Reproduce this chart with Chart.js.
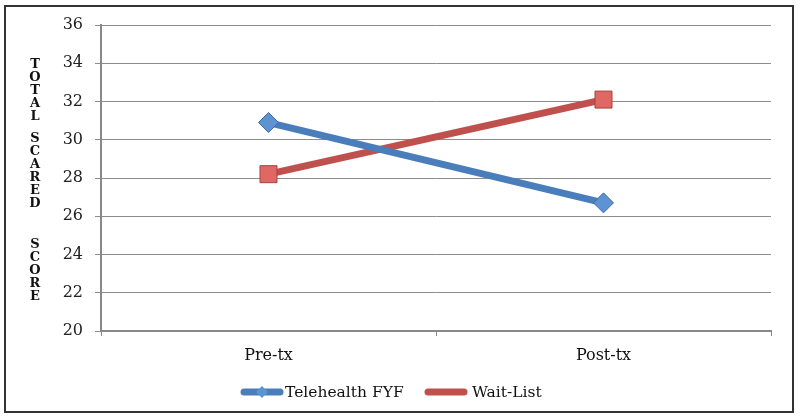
<!DOCTYPE html>
<html>
<head>
<meta charset="utf-8">
<script src="https://cdn.jsdelivr.net/npm/chart.js@4.4.0/dist/chart.umd.min.js"></script>
<style>
  html, body { margin: 0; padding: 0; background: #fff; }
  #wrap { width: 800px; height: 418px; position: relative; }
</style>
</head>
<body>
<div id="wrap"><canvas id="chart"></canvas></div>
<script>
// data
const categories = ['Pre-tx', 'Post-tx'];
const telehealth = [30.9, 26.7];
const waitList = [28.2, 32.1];
const yTicks = [20, 22, 24, 26, 28, 30, 32, 34, 36];
const yTitle = ['TOTAL', 'SCARED', 'SCORE'];

const FONT = "'DejaVu Serif', 'Liberation Serif', serif";

// vertical stacked y title, custom legend and the outer frame
const decorations = {
  id: 'decorations',
  afterDraw(chart) {
    const ctx = chart.ctx;
    ctx.save();

    // frame
    ctx.strokeStyle = '#333';
    ctx.lineWidth = 2;
    ctx.strokeRect(5, 6, 788, 406);

    // stacked letters
    ctx.fillStyle = '#111';
    ctx.font = "bold 13px " + FONT;
    ctx.textAlign = 'center';
    ctx.textBaseline = 'middle';
    const starts = [65, 139, 245];
    yTitle.forEach((word, w) => {
      [...word].forEach((ch, i) => {
        ctx.fillText(ch, 35, starts[w] + i * 12.9);
      });
    });

    // legend
    const items = [
      { ds: chart.data.datasets[0], x: 241, tx: 285, diamond: true },
      { ds: chart.data.datasets[1], x: 425, tx: 472, diamond: false }
    ];
    const ly = 392;
    ctx.font = "15.5px " + FONT;
    ctx.textAlign = 'left';
    items.forEach(it => {
      ctx.strokeStyle = it.ds.borderColor;
      ctx.lineWidth = 7;
      ctx.lineCap = 'round';
      ctx.beginPath();
      ctx.moveTo(it.x + 3, ly);
      ctx.lineTo(it.x + 39, ly);
      ctx.stroke();
      if (it.diamond) {
        ctx.fillStyle = it.ds.pointBackgroundColor;
        ctx.beginPath();
        const cx = it.x + 21;
        ctx.moveTo(cx, ly - 6);
        ctx.lineTo(cx + 6, ly);
        ctx.lineTo(cx, ly + 6);
        ctx.lineTo(cx - 6, ly);
        ctx.closePath();
        ctx.fill();
      }
      ctx.fillStyle = '#111';
      ctx.fillText(it.ds.label, it.tx, ly + 1);
    });
    ctx.restore();
  }
};

new Chart(document.getElementById('chart'), {
  type: 'line',
  data: {
    labels: categories,
    datasets: [{
      label: 'Telehealth FYF',
      data: telehealth,
      borderColor: '#4a7ebb',
      borderWidth: 7,
      pointStyle: 'rectRot',
      pointRadius: 10,
      pointHoverRadius: 10,
      pointBackgroundColor: '#5e93d3',
      pointBorderColor: '#3d6ca6',
      pointBorderWidth: 1
    }, {
      label: 'Wait-List',
      data: waitList,
      borderColor: '#c0504d',
      borderWidth: 7,
      pointStyle: 'rect',
      pointRadius: 12,
      pointHoverRadius: 12,
      pointBackgroundColor: '#e06864',
      pointBorderColor: '#a8403d',
      pointBorderWidth: 1
    }]
  },
  options: {
    responsive: true,
    maintainAspectRatio: false,
    animation: false,
    layout: { padding: { left: 0, right: 29, top: 25, bottom: 0 } },
    plugins: {
      legend: { display: false },
      tooltip: { enabled: false }
    },
    scales: {
      x: {
        offset: true,
        afterFit(scale) { scale.height = 87; },
        grid: {
          offset: true,
          drawOnChartArea: false,
          drawTicks: true,
          tickLength: 5,
          color: '#888'
        },
        border: { color: '#888', width: 2 },
        ticks: {
          color: '#111',
          padding: 10,
          font: { family: FONT, size: 16 }
        }
      },
      y: {
        min: 20,
        max: 36,
        afterFit(scale) { scale.width = 101; },
        afterBuildTicks(scale) { scale.ticks = yTicks.map(v => ({ value: v })); },
        grid: {
          color: '#8c8c8c',
          lineWidth: 1,
          drawTicks: true,
          tickLength: 6
        },
        border: { color: '#888', width: 2 },
        ticks: {
          color: '#222',
          padding: 12,
          font: { family: FONT, size: 16 }
        }
      }
    }
  },
  plugins: [decorations]
});
</script>
</body>
</html>
